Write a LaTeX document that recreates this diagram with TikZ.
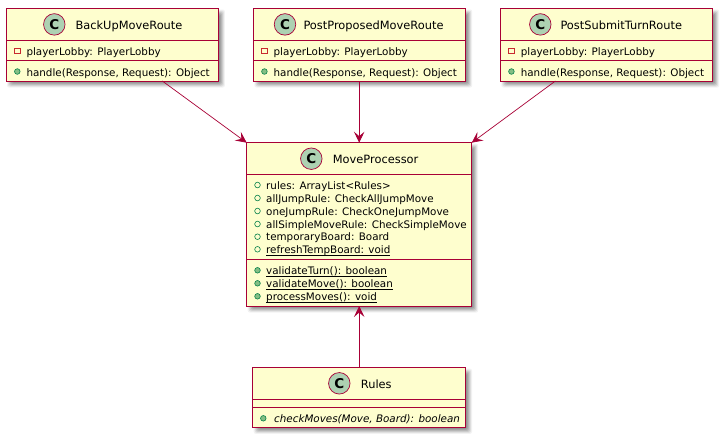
\documentclass[tikz,border=0pt]{standalone}
\usepackage{fontspec}
\setmainfont{DejaVu Sans}
\usetikzlibrary{arrows.meta,calc}
\definecolor{edge}{HTML}{A80036}
\definecolor{fillc}{HTML}{FEFECE}
\definecolor{circ}{HTML}{ADD1B2}
\definecolor{pub}{HTML}{84BE84}
\definecolor{pubd}{HTML}{038048}
\definecolor{prv}{HTML}{C82930}
\newcommand{\ulx}[1]{\setbox0\hbox{#1}\rlap{\copy0}\rule[-2pt]{\wd0}{.8pt}}
\tikzset{
 x=1pt,y=-1pt,
 classbox/.style={draw=edge,fill=fillc,line width=1pt,anchor=north west,inner sep=0pt,outer sep=0pt},
 arr/.style={draw=edge,line width=.7pt,-{Stealth[length=11pt,width=10.5pt,inset=4.5pt]}},
 sepl/.style={draw=edge,line width=.8pt},
 titletext/.style={font=\fontsize{11.4}{13}\selectfont,anchor=base west,inner sep=0pt,text=black},
 membertext/.style={font=\fontsize{10.35}{12}\selectfont,anchor=base west,inner sep=0pt,text=black},
 cmark/.style={circle,draw=edge,fill=circ,line width=.7pt,minimum size=21.5pt,inner sep=0pt,font=\fontsize{13.5}{13.5}\selectfont\bfseries},
 pubm/.style={circle,draw=pubd,fill=pub,line width=.6pt,minimum size=5.6pt,inner sep=0pt},
 pubo/.style={circle,draw=pubd,fill=none,line width=.6pt,minimum size=5.6pt,inner sep=0pt},
 prvm/.style={rectangle,draw=prv,fill=none,line width=.7pt,minimum size=5.6pt,inner sep=0pt},
}
% name, x1, y1, x2, y2, sep1, sep2
\newcommand{\classrect}[7]{%
  \foreach \d/\o in {6.5/.05,5.5/.07,4.5/.09,3.5/.10,2.5/.10,1.5/.10}{%
    \fill[black,opacity=\o,rounded corners=2pt] (#2+7.5-\d,#3+7.5-\d) rectangle (#4+\d,#5+\d);}
  \node[classbox,minimum width=#4-#2,minimum height=#5-#3] (#1) at (#2,#3) {};
  \draw[sepl] (#1.west |- 0,#6) -- (#1.east |- 0,#6);
  \draw[sepl] (#1.west |- 0,#7) -- (#1.east |- 0,#7);
}
\begin{document}
\begin{tikzpicture}
\useasboundingbox (0,0) rectangle (722,437);
\fill[white] (0,0) rectangle (722,437);
\classrect{br}{6}{8.5}{218.3}{81}{40.7}{60.7}
\classrect{pp}{253.4}{8.5}{465.7}{81}{40.7}{60.7}
\classrect{ps}{500.4}{8.5}{712.7}{81}{40.7}{60.7}
\classrect{mp}{246.7}{142.7}{471.7}{306}{174.3}{259.3}
\classrect{ru}{252.7}{367.7}{465.5}{427.3}{399.3}{407.3}
\node[cmark] (cbr) at (54.3,24.4) {C};
\node[titletext] (tbr) at (75.3,29.3) {BackUpMoveRoute};
\node[prvm] (a1) at (17.3,51) {};
\node[membertext] (a2) at (26.3,55) {playerLobby: PlayerLobby};
\node[pubm] (a3) at (17.3,71.5) {};
\node[membertext] (a4) at (26.3,76) {handle(Response, Request): Object};
\node[cmark] (cpp) at (285,24.4) {C};
\node[titletext] (tpp) at (303.3,29.3) {PostProposedMoveRoute};
\node[prvm] (b1) at (264.4,51) {};
\node[membertext] (b2) at (273.4,55) {playerLobby: PlayerLobby};
\node[pubm] (b3) at (264.4,71.5) {};
\node[membertext] (b4) at (273.4,76) {handle(Response, Request): Object};
\node[cmark] (cps) at (540.3,24.4) {C};
\node[titletext] (tps) at (560.3,29.3) {PostSubmitTurnRoute};
\node[prvm] (c1) at (511.4,51) {};
\node[membertext] (c2) at (520.6,55) {playerLobby: PlayerLobby};
\node[pubm] (c3) at (511.4,71.5) {};
\node[membertext] (c4) at (520.6,76) {handle(Response, Request): Object};
\node[cmark] (cmp) at (311.3,158.7) {C};
\node[titletext] (tmp) at (332.7,163.5) {MoveProcessor};
\foreach \n/\y/\t in {m1/189/{rules: ArrayList<Rules>},m2/202/{allJumpRule: CheckAllJumpMove},m3/215/{oneJumpRule: CheckOneJumpMove},m4/228/{allSimpleMoveRule: CheckSimpleMove},m5/240.7/{temporaryBoard: Board},m6/253.3/{\ulx{refreshTempBoard: void}}}{
  \node[pubo] at (257.5,\y-4) {};
  \node[membertext] (\n) at (266,\y) {\t};
}
\foreach \n/\y/\t in {v1/274.3/{\ulx{validateTurn(): boolean}},v2/287.3/{\ulx{validateMove(): boolean}},v3/300.3/{\ulx{processMoves(): void}}}{
  \node[pubm] at (257.5,\y-4) {};
  \node[membertext] (\n) at (266,\y) {\t};
}
\node[cmark] (cru) at (339.3,383.3) {C};
\node[titletext] (tru) at (360.7,388) {Rules};
\node[pubm] (r1) at (263.3,418.3) {};
\node[membertext,font=\fontsize{10.35}{12}\selectfont\itshape] (r2) at (274,422) {checkMoves(Move, Board): boolean};
\path (br.south west)+(156.3,0) coordinate (o1);
\path (ps.south west)+(55,0) coordinate (o3);
\draw[arr] (o1) -- (mp.north west);
\draw[arr] (pp.south -| mp.north) -- (mp.north);
\draw[arr] (o3) -- (mp.north east);
\draw[arr] (ru.north -| mp.south) -- (mp.south);
\end{tikzpicture}
\end{document}
